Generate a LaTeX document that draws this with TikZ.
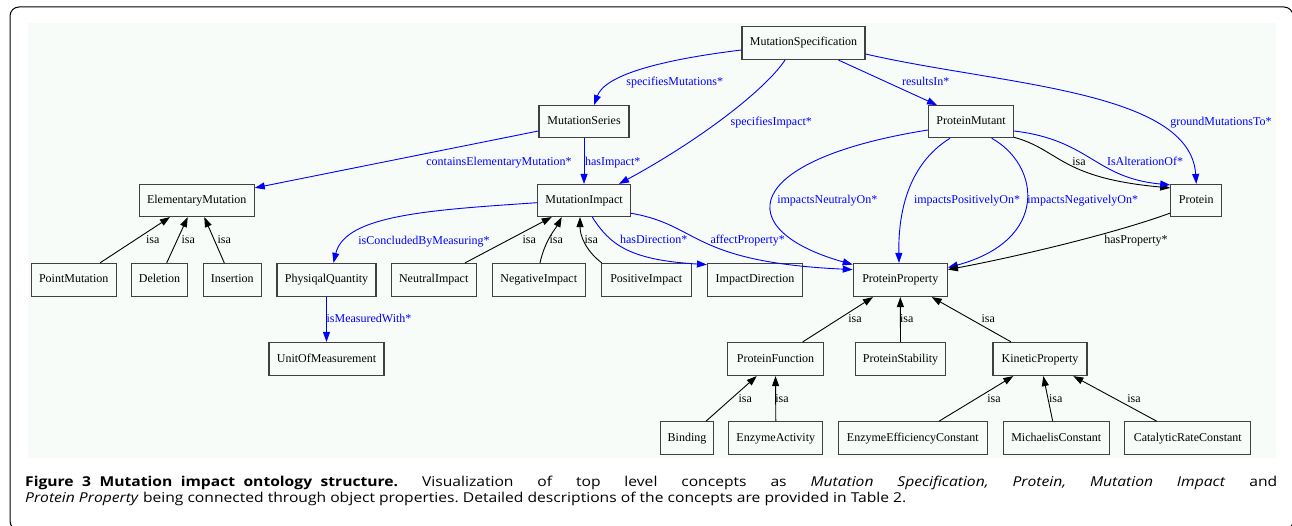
\documentclass[tikz,border=0pt]{standalone}
\usepackage{fontspec}
\setmainfont{Liberation Serif}
\newfontfamily\capfont[FakeStretch=1.15]{Open Sans}
\usetikzlibrary{arrows.meta}
\definecolor{bgc}{RGB}{248,252,248}
\definecolor{boxc}{RGB}{64,64,64}
\definecolor{edgeblue}{RGB}{0,0,255}
\begin{document}
\begin{tikzpicture}[x=1pt,y=-1pt,
 box/.style={draw=boxc, line width=1.2pt, minimum height=33pt, inner sep=0pt, text height=8.5pt, text depth=2.5pt, font=\fontsize{12}{14}\selectfont},
 lbl/.style={inner sep=0pt, text height=8.5pt, text depth=2.5pt, text=black, font=\fontsize{12}{14}\selectfont},
 bll/.style={lbl, text=edgeblue},
 bl/.style={draw=edgeblue, line width=0.9pt, -{Triangle[length=10pt,width=7pt]}},
 bk/.style={draw=black, line width=0.9pt, -{Triangle[length=10pt,width=7pt]}},
 capf/.style={anchor=base west, inner sep=0pt, font=\capfont\fontsize{13.6}{16}\selectfont\frenchspacing}
]
\useasboundingbox (0,0) rectangle (1292,526);
\fill[white] (0,0) rectangle (1292,526);
\draw[line width=1pt, rounded corners=9pt] (10,7) rectangle (1293,530);
\fill[bgc] (28,23) rectangle (1276,458);

% nodes
\node[box, minimum width=123pt] (ms) at (803.5,43) {MutationSpecification};
\node[box, minimum width=90pt, minimum height=32pt] (mser) at (584,121.7) {MutationSeries};
\node[box, minimum width=93pt, minimum height=32pt] (mi) at (584,200.5) {MutationImpact};
\node[box, minimum width=115pt, minimum height=32pt] (em) at (196.7,200.5) {ElementaryMutation};
\node[box, minimum width=85pt, minimum height=32pt] (pm) at (971,121.7) {ProteinMutant};
\node[box, minimum width=51pt, minimum height=32pt] (prot) at (1196.3,200.5) {Protein};

\node[box, minimum width=85pt] (pmu) at (73.7,280) {PointMutation};
\node[box, minimum width=56pt] (del) at (159.5,280) {Deletion};
\node[box, minimum width=58pt] (ins) at (232.3,280) {Insertion};
\node[box, minimum width=99pt] (pq) at (326.5,280) {PhysiqalQuantity};
\node[box, minimum width=85pt] (ni) at (433.7,280) {NeutralImpact};
\node[box, minimum width=93pt] (negi) at (538.8,280) {NegativeImpact};
\node[box, minimum width=90pt] (posi) at (646.3,280) {PositiveImpact};
\node[box, minimum width=95pt] (idir) at (755,280) {ImpactDirection};
\node[box, minimum width=94pt] (pp) at (900.3,280) {ProteinProperty};

\node[box, minimum width=115pt] (uom) at (326.5,359) {UnitOfMeasurement};
\node[box, minimum width=96pt] (pf) at (775.5,359) {ProteinFunction};
\node[box, minimum width=90pt] (ps) at (900.5,359) {ProteinStability};
\node[box, minimum width=94pt] (kp) at (1040,359) {KineticProperty};

\node[box, minimum width=53pt] (bind) at (687,438.3) {Binding};
\node[box, minimum width=94pt] (ea) at (775.8,438.3) {EnzymeActivity};
\node[box, minimum width=149pt] (eec) at (912.8,438.3) {EnzymeEfficiencyConstant};
\node[box, minimum width=106pt] (mc) at (1056.3,438.3) {MichaelisConstant};
\node[box, minimum width=126pt] (crc) at (1187.8,438.3) {CatalyticRateConstant};

% edges
\draw[bl] ([yshift=-7pt]ms.west) .. controls (660,60) and (605,75) .. ([xshift=10pt]mser.north) node[bll] (lsm) at (674.7,82.3) {specifiesMutations*};
\draw[bl] ([xshift=-18.5pt]ms.south) .. controls (765,90) and (700,140) .. ([xshift=35pt]mi.north) node[bll] (lsi) at (771.3,122.3) {specifiesImpact*};
\draw[bl] (mser.south) -- (mi.north) node[bll] (lhi) at (612.7,162.3) {hasImpact*};
\draw[bl] ([yshift=-9.3pt]mser.west) -- ([yshift=-4pt]em.north east) node[bll] (lce) at (499,162.3) {containsElementaryMutation*};
\draw[bl] ([xshift=35pt]ms.south) -- ([xshift=-34pt]pm.north) node[bll] (lri) at (925.8,82.3) {resultsIn*};
\draw[bl] ([yshift=-11pt]ms.east) .. controls (1000,85) and (1190,90) .. (prot.north) node[bll] (lgm) at (1221,122.3) {groundMutationsTo*};

\draw[bk] ([yshift=1pt]pm.south east) .. controls (1060,150) and (1060,178) .. ([yshift=-4pt]prot.north west) node[lbl] (lisa) at (1079,162.3) {isa};
\draw[bl] ([yshift=-9.3pt]pm.east) .. controls (1090,140) and (1095,178) .. ([yshift=-1pt]prot.north west) node[bll] (lal) at (1145,162.3) {IsAlterationOf*};

\draw[bl] ([yshift=-8.3pt]pm.west) .. controls (740,160) and (730,230) .. ([yshift=-1.7pt]pp.north west) node[bll] (lin) at (827.3,201) {impactsNeutralyOn*};
\draw[bl] ([xshift=-21pt]pm.south) .. controls (915,160) and (898,200) .. ([xshift=-1.3pt]pp.north) node[bll] (lip) at (967,201) {impactsPositivelyOn*};
\draw[bl] ([xshift=20.7pt]pm.south) .. controls (1040,165) and (1050,240) .. ([yshift=-4.7pt]pp.north east) node[bll] (lng) at (1082.7,201) {impactsNegativelyOn*};
\draw[bk] ([yshift=4pt]prot.south west) .. controls (1110,235) and (1010,258) .. ([yshift=-6.7pt]pp.north east) node[lbl] (lhp) at (1136,241) {hasProperty*};

\draw[bl] ([yshift=-2.2pt]mi.west) .. controls (430,210) and (345,215) .. ([xshift=7pt]pq.north) node[bll] (lcm) at (424,241.3) {isConcludedByMeasuring*};
\draw[bl] (pq.south) -- (uom.north) node[bll] (lmw) at (369,319.3) {isMeasuredWith*};

\draw[bk] ([xshift=26.3pt]pmu.north) -- ([xshift=-26.7pt]em.south) node[lbl] (li1) at (152.7,241) {isa};
\draw[bk] ([xshift=7.2pt]del.north) -- ([xshift=-9pt]em.south) node[lbl] (li2) at (188.3,241) {isa};
\draw[bk] ([xshift=-8pt]ins.north) -- ([xshift=7.6pt]em.south) node[lbl] (li3) at (224.3,241) {isa};
\draw[bk] ([xshift=31.3pt]ni.north) -- ([xshift=-32.3pt]mi.south) node[lbl] (li4) at (529.3,241) {isa};
\draw[bk] ([xshift=1.2pt]negi.north) .. controls (545,240) and (556,228) .. ([xshift=-22.3pt]mi.south) node[lbl] (li5) at (556.3,241) {isa};
\draw[bk] ([xshift=-44.6pt]posi.north) .. controls (585,250) and (580,235) .. ([xshift=-4pt]mi.south) node[lbl] (li6) at (591.3,241) {isa};
\draw[bl] ([xshift=8.3pt]mi.south) .. controls (610,245) and (630,260) .. ([yshift=-1.7pt]idir.north west) node[bll] (lhd) at (653.7,241) {hasDirection*};
\draw[bl] ([yshift=-12.8pt]mi.east) .. controls (700,225) and (690,262) .. ([yshift=-6.7pt]pp.north west) node[bll] (lap) at (747.7,241) {affectProperty*};

\draw[bk] ([xshift=27.2pt]pf.north) -- ([xshift=-27.3pt]pp.south) node[lbl] (li7) at (855,319.3) {isa};
\draw[bk] (ps.north) -- (pp.south) node[lbl] (li8) at (906.7,319.3) {isa};
\draw[bk] ([xshift=-29pt]kp.north) -- ([xshift=31.4pt]pp.south) node[lbl] (li9) at (988.3,319.3) {isa};
\draw[bk] ([xshift=19pt]bind.north) -- ([xshift=-18.8pt]pf.south) node[lbl] (li10) at (745.3,399.3) {isa};
\draw[bk] (ea.north) -- (pf.south) node[lbl] (li11) at (782,399.3) {isa};
\draw[bk] ([xshift=26.2pt]eec.north) -- ([xshift=-26.7pt]kp.south) node[lbl] (li12) at (994,399.3) {isa};
\draw[bk] ([xshift=-3.6pt]mc.north) -- ([xshift=3.3pt]kp.south) node[lbl] (li13) at (1055.7,399.3) {isa};
\draw[bk] ([xshift=-31.1pt]crc.north) -- ([xshift=33.3pt]kp.south) node[lbl] (li14) at (1134,399.3) {isa};

% caption
\node[capf] (cap1) at (25,486.7) {\makebox[1252pt][s]{\makebox[373pt][s]{\textbf{Figure 3 Mutation impact ontology structure.}} Visualization of top level concepts as \textit{Mutation Specification, Protein, Mutation Impact} and}};
\node[capf] (cap2) at (25,502.7) {\textit{Protein Property} being connected through object properties. Detailed descriptions of the concepts are provided in Table 2.};
\end{tikzpicture}
\end{document}
